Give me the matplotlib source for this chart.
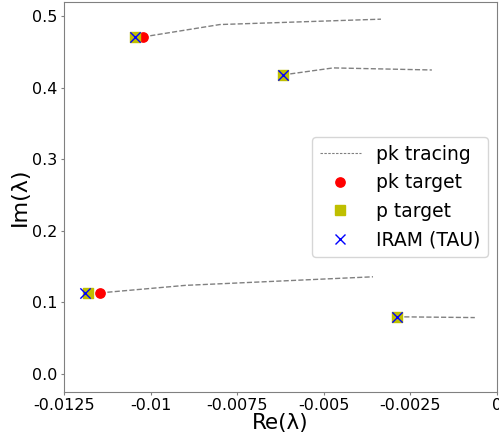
import matplotlib
matplotlib.use("Agg")
import matplotlib.pyplot as plt
from matplotlib.lines import Line2D

# tracing paths (Re, Im)
trace1_re = [-0.01022, -0.0080, -0.00335]
trace1_im = [0.4707, 0.4880, 0.4955]
trace2_re = [-0.00618, -0.00473, -0.00188]
trace2_im = [0.4176, 0.4274, 0.4245]
trace3_re = [-0.01146, -0.0090, -0.00358]
trace3_im = [0.1130, 0.1235, 0.1355]
trace4_re = [-0.00289, -0.00064]
trace4_im = [0.0796, 0.0785]

pk_re = [-0.01022, -0.00618, -0.01146, -0.00289]
pk_im = [0.4707, 0.4176, 0.1130, 0.0796]
p_re = [-0.01045, -0.00618, -0.01181, -0.00289]
p_im = [0.4707, 0.4176, 0.1125, 0.0796]
iram_re = [-0.01045, -0.00618, -0.01189, -0.00289]
iram_im = [0.4707, 0.4176, 0.1125, 0.0796]

xticks = [-0.0125, -0.01, -0.0075, -0.005, -0.0025, 0]
xticklabels = ["-0.0125", "-0.01", "-0.0075", "-0.005", "-0.0025", "0"]
yticks = [0.0, 0.1, 0.2, 0.3, 0.4, 0.5]

fig = plt.figure(figsize=(4.99, 4.37), dpi=100)
ax = fig.add_axes([64/499, (437-392)/437, 433/499, 390/437])

traces = [(trace1_re, trace1_im), (trace2_re, trace2_im),
          (trace3_re, trace3_im), (trace4_re, trace4_im)]
for tr, ti in traces:
    ax.plot(tr, ti, ls='--', color='gray', lw=1.0, zorder=1)

ax.scatter(pk_re, pk_im, color='red', marker='o', s=45, zorder=2)
ax.scatter(p_re, p_im, color='y', marker='s', s=60, zorder=3)
ax.scatter(iram_re, iram_im, color='blue', marker='x', s=55, lw=1.0, zorder=4)

handles = [
    Line2D([], [], ls=(0, (2.2, 1.3)), color='gray', lw=0.8),
    Line2D([], [], ls='none', marker='o', color='red', markersize=6.7),
    Line2D([], [], ls='none', marker='s', color='y', markersize=7.7),
    Line2D([], [], ls='none', marker='x', color='blue', markersize=7.4, mew=1.0),
]
labels = ['pk tracing', 'pk target', 'p target', 'IRAM (TAU)']

ax.set_xlim(-0.0125, 0)
ax.set_ylim(-0.0255, 0.5195)
ax.set_xticks(xticks)
ax.set_xticklabels(xticklabels)
ax.set_yticks(yticks)
ax.tick_params(labelsize=11.5, color='gray', length=2, pad=2.5)
for sp in ax.spines.values():
    sp.set_color('gray')

ax.set_xlabel('Re(λ)', fontsize=15.5, labelpad=0)
ax.set_ylabel('Im(λ)', fontsize=16, labelpad=2)

ax.legend(handles, labels, loc='center right', fontsize=13.5, handlelength=2.2)

fig.savefig('out.png', dpi=100)
